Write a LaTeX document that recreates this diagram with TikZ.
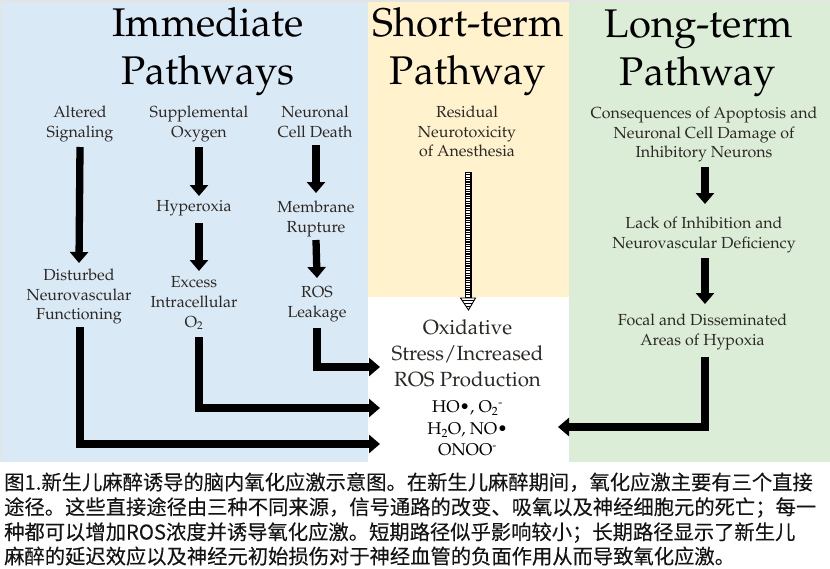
\documentclass[tikz,border=0pt]{standalone}
\usepackage[T1]{fontenc}
\usepackage{fontspec}
\newfontfamily\cjk[FakeBold=0.2]{Noto Sans CJK SC}
\usetikzlibrary{arrows.meta,patterns}
\newcommand\pal{\fontencoding{T1}\fontfamily{ppl}\selectfont}
\definecolor{bluebg}{HTML}{DAE9F6}
\definecolor{yellowbg}{HTML}{FFF2CD}
\definecolor{greenbg}{HTML}{DBEDD7}
\definecolor{framegray}{HTML}{E4E4E4}
\definecolor{subcol}{HTML}{2C2824}
\definecolor{capcol}{HTML}{141414}
\begin{document}
\begin{tikzpicture}[x=1pt,y=-1pt,
  ttl/.style={font=\pal\fontsize{40}{48}\selectfont, anchor=base, inner sep=0pt, text=black},
  subtxt/.style={font=\pal\fontsize{16}{19.8}\selectfont, text=subcol, align=center, anchor=north, inner sep=0pt},
  oxt/.style={font=\pal\fontsize{20.5}{26}\selectfont, text=subcol, align=center, anchor=north, inner sep=0pt},
  chem/.style={font=\pal\fontsize{17}{21.5}\selectfont, text=black, align=center, anchor=north, inner sep=0pt},
  captxt/.style={font=\cjk\fontsize{20.3}{24}\selectfont, anchor=base west, inner sep=0pt, text=capcol},
  arr/.style={line width=7.3pt, draw=black, -{Triangle[width=18pt,length=11pt]}},
  hshaft/.style={line width=7pt, draw=black},
  hshaftw/.style={line width=4.6pt, draw=white, dash pattern=on 1.3pt off 1.1pt},
  hhead/.style={line width=0.9pt, draw=black, pattern=horizontal lines}
]
\useasboundingbox (0,0) rectangle (830,568);
\fill[white] (0,0) rectangle (830,568);
\fill[framegray] (0,0) rectangle (830,462);
\fill[bluebg] (1,2) rectangle (368,462);
\fill[yellowbg] (368,2) rectangle (569,297);
\fill[white] (368,297) rectangle (569,462);
\fill[greenbg] (569,2) rectangle (830,462);

% titles
\node[ttl] (imm1) at (208,36) {Immediate};
\node[ttl] (imm2) at (208,84) {Pathways};
\node[ttl] (st1) at (468,36) {Short-term};
\node[ttl] (st2) at (468,84) {Pathway};
\node[ttl] (lt1) at (699,37) {Long-term};
\node[ttl] (lt2) at (698,85) {Pathway};

% immediate pathways
\node[subtxt] (alt) at (80,105.5) {Altered\\Signaling};
\node[subtxt] (sup) at (199,105.5) {Supplemental\\Oxygen};
\node[subtxt] (neu) at (315,105.5) {Neuronal\\Cell Death};
\node[subtxt] (hyp) at (194,200.5) {Hyperoxia};
\node[subtxt] (mem) at (316,200.5) {Membrane\\Rupture};
\node[subtxt] (exc) at (194,276.5) {Excess\\Intracellular\\O\textsubscript{2}};
\node[subtxt] (ros) at (317,286.5) {ROS\\Leakage};
\node[subtxt] (dis) at (79,268.5) {Disturbed\\Neurovascular\\Functioning};

% short-term
\node[subtxt] (res) at (467,105.5) {Residual\\Neurotoxicity\\of Anesthesia};

% long-term
\node[subtxt] (con) at (704,106.5) {Consequences of Apoptosis and\\Neuronal Cell Damage of\\Inhibitory Neurons};
\node[subtxt] (lack) at (704,216.5) {Lack of Inhibition and\\Neurovascular Deficiency};
\node[subtxt] (foc) at (702.5,313.5) {Focal and Disseminated\\Areas of Hypoxia};

% oxidative stress
\node[oxt] (ox1) at (467.5,319.6) {Oxidative\\Stress/Increased\\ROS Production};
\node[chem] (ox2) at (467.5,401) {HO\textbullet, O\textsubscript{2}\textsuperscript{-}\\H\textsubscript{2}O, NO\textbullet\\ONOO\textsuperscript{-}};

\coordinate (in1) at (380,367);
\coordinate (in2) at (380,408);
\coordinate (in3) at (380,444);
\coordinate (in4) at (558,427);

% straight arrows
\draw[arr] (alt.south |- 0,147) -- (dis.north |- 0,263);
\draw[arr] (sup.south |- 0,147) -- ([xshift=5pt]hyp.north |- 0,196);
\draw[arr] ([xshift=5pt]hyp.south |- 0,223) -- ([xshift=5pt]exc.north |- 0,271);
\draw[arr] ([xshift=1pt]neu.south |- 0,145) -- (mem.north |- 0,193);
\draw[arr] (mem.south |- 0,240) -- (ros.north |- 0,278);
\draw[arr] ([xshift=1pt]con.south |- 0,167) -- ([xshift=1pt]lack.north |- 0,204);
\draw[arr] ([xshift=1pt]lack.south |- 0,258) -- ([xshift=2.5pt]foc.north |- 0,304);

% elbow arrows
\draw[arr] (ros.south |- 0,328) |- (in1);
\draw[arr] ([xshift=5pt]exc.south |- 0,337) |- (in2);
\draw[arr] ([xshift=1pt]dis.south |- 0,327) |- (in3);
\draw[arr] ([xshift=2.5pt]foc.south |- 0,357) |- (in4);

% hatched arrow
\coordinate (hs) at ([xshift=1pt]res.south |- 0,172);
\coordinate (hh) at ([xshift=1pt]res.south |- 0,298);
\coordinate (ht) at ([xshift=1pt]ox1.north |- 0,310);
\draw[hshaft] (hs) -- (hh);
\draw[hshaftw] ([yshift=-0.9pt]hs) -- (hh);
\draw[hhead] ([xshift=-7.5pt]hh) -- ([xshift=7.5pt]hh) -- (ht) -- cycle;

% caption
\node[captxt] (cap1) at (4,489.7) {图1.新生儿麻醉诱导的脑内氧化应激示意图。在新生儿麻醉期间，氧化应激主要有三个直接};
\node[captxt] (cap2) at (4,514.5) {途径。这些直接途径由三种不同来源，信号通路的改变、吸氧以及神经细胞元的死亡；每一};
\node[captxt] (cap3) at (4,539.5) {种都可以增加ROS浓度并诱导氧化应激。短期路径似乎影响较小；长期路径显示了新生儿};
\node[captxt] (cap4) at (4,563.8) {麻醉的延迟效应以及神经元初始损伤对于神经血管的负面作用从而导致氧化应激。};
\end{tikzpicture}
\end{document}
